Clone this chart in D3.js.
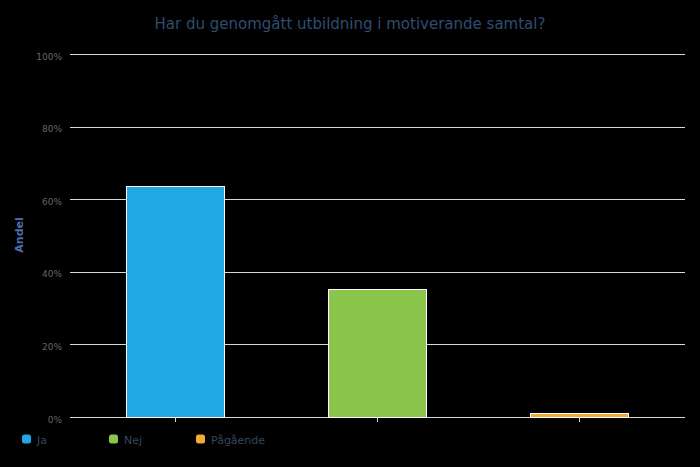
<!DOCTYPE html>
<html><head><meta charset="utf-8">
<script src="https://cdn.jsdelivr.net/npm/d3@7"></script>
<style>body{margin:0;background:#000;}svg{display:block;font-family:"DejaVu Sans",sans-serif;}</style>
</head><body><svg id="c" width="700" height="467"></svg>
<script>
const categories = ["Ja", "Nej", "Pågående"];
const values = [63.6, 35.3, 1.2];
const colors = ["#1fa8e1", "#8bc54b", "#f2aa36"];
const yTicks = [0, 20, 40, 60, 80, 100];
const title = "Har du genomgått utbildning i motiverande samtal?";
const yTitle = "Andel";

const svg = d3.select("#c");
svg.append("rect").attr("width",700).attr("height",467).attr("fill","#000");
const x0 = 70, x1 = 685, yTop = 54, yBot = 417;
const x = d3.scaleBand().domain(categories).range([74, 680]).paddingInner(0.515).paddingOuter(0.2575);
const y = d3.scaleLinear().domain([0,100]).range([yBot, yTop]);

svg.append("text").attr("x",350).attr("y",29).attr("text-anchor","middle")
  .attr("fill","#2f4d70").attr("font-size",15).text(title);

const g = svg.append("g");
yTicks.forEach(t=>{
  g.append("line").attr("x1",x0).attr("x2",x1).attr("y1",Math.round(y(t))+0.5).attr("y2",Math.round(y(t))+0.5)
    .attr("stroke","#d8d8d8").attr("stroke-width",1);
  g.append("text").attr("x",62).attr("y",y(t)+5.5).attr("text-anchor","end")
    .attr("fill","#666").attr("font-size",9).text(t+"%");
});

svg.append("text").attr("transform","translate(23,235) rotate(-90)").attr("text-anchor","middle")
  .attr("fill","#4a6ea8").attr("font-size",11).attr("font-weight","bold").text(yTitle);

svg.selectAll("rect.bar").data(values).enter().append("rect").attr("class","bar")
  .attr("x",(d,i)=>Math.round(x(categories[i]))+0.5)
  .attr("y",d=>Math.round(y(d))+0.5)
  .attr("width",Math.round(x.bandwidth()))
  .attr("height",d=>yBot-Math.round(y(d)))
  .attr("fill",(d,i)=>colors[i]).attr("stroke","#fff").attr("stroke-width",1);

categories.forEach(c=>{
  const cx = Math.round(x(c)+x.bandwidth()/2)+0.5;
  svg.append("line").attr("x1",cx).attr("x2",cx).attr("y1",yBot).attr("y2",yBot+5).attr("stroke","#d8d8d8");
});

const legX = [22, 109, 196];
categories.forEach((c,i)=>{
  svg.append("rect").attr("x",legX[i]).attr("y",434.5).attr("width",9).attr("height",9).attr("rx",2.5)
    .attr("fill",colors[i]);
  svg.append("text").attr("x",legX[i]+15).attr("y",443.5).attr("fill","#34495e").attr("font-size",11).text(c);
});
</script></body></html>
